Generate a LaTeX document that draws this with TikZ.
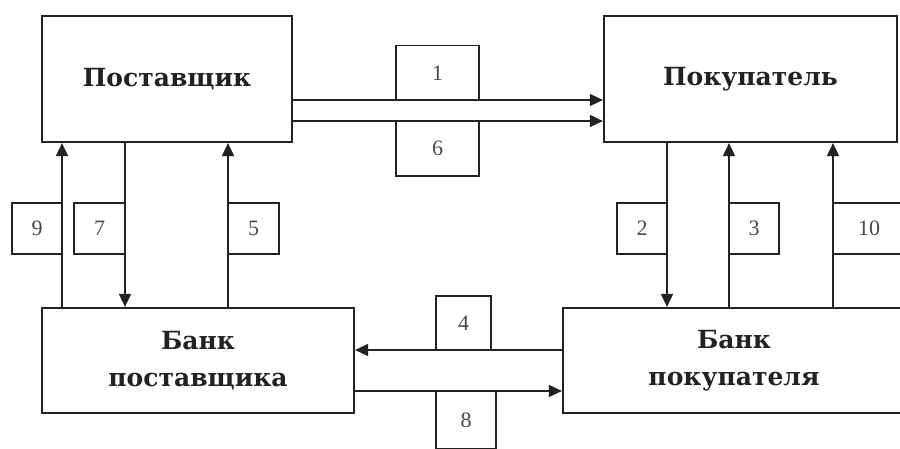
\documentclass[tikz,border=0pt]{standalone}
\usepackage{fontspec}
\setmainfont{Liberation Serif}
\newfontfamily\boxfont{DejaVu Serif}
\usetikzlibrary{arrows.meta}
\definecolor{ink}{HTML}{222222}
\definecolor{numc}{HTML}{4A4A4A}
\begin{document}
\begin{tikzpicture}[x=1pt,y=-1pt,
  mainbox/.style={draw=ink,line width=2.2pt,inner sep=0pt,
    font=\boxfont\bfseries\fontsize{25}{37}\selectfont,align=center,text=ink},
  numbox/.style={draw=ink,line width=1.6pt,inner sep=0pt,
    font=\fontsize{22}{22}\selectfont,text=numc},
  arr/.style={draw=ink,line width=1.7pt,-{Triangle[length=13pt,width=12pt]}},
  ln/.style={draw=ink,line width=1.6pt}]
\useasboundingbox (0,0) rectangle (900,449);
\clip (0,0) rectangle (900,449);
\fill[white] (0,0) rectangle (900,449);
% main boxes
\node[mainbox,minimum width=250pt,minimum height=126pt] (sup) at (167,79) {\raisebox{4pt}{Поставщик}};
\node[mainbox,minimum width=293pt,minimum height=126pt] (buy) at (750.5,79) {\raisebox{4pt}{Покупатель}};
\node[mainbox,minimum width=312pt,minimum height=105pt] (bs) at (198,360.5) {Банк\\поставщика};
\node[mainbox,minimum width=342pt,minimum height=105pt] (bb) at (734,360.5) {Банк\\покупателя};
% helper coordinates
\coordinate (y1) at (0,100);
\coordinate (y6) at (0,121);
\coordinate (y4) at (0,350);
\coordinate (y8) at (0,391);
\coordinate (x9) at (62,0);
\coordinate (x7) at (125,0);
\coordinate (x5) at (228,0);
\coordinate (x2) at (667,0);
\coordinate (x3) at (729,0);
\coordinate (x10) at (833,0);
% number boxes
\node[numbox,minimum width=83pt,minimum height=55pt] (n1) at (437.5,73) {1};
\node[numbox,minimum width=83pt,minimum height=55pt] (n6) at (437.5,148.5) {6};
\node[numbox,minimum width=50pt,minimum height=51pt] (n9) at (37,228.5) {9};
\node[numbox,minimum width=51pt,minimum height=51pt] (n7) at (99.5,228.5) {7};
\node[numbox,minimum width=51pt,minimum height=51pt] (n5) at (253.5,228.5) {5};
\node[numbox,minimum width=50pt,minimum height=51pt] (n2) at (642,228.5) {2};
\node[numbox,minimum width=50pt,minimum height=51pt] (n3) at (754,228.5) {3};
\node[numbox,minimum width=76pt,minimum height=51pt] (n10) at (871,228.5) {};
\node[font=\fontsize{22}{22}\selectfont,text=numc,inner sep=0pt] (t10) at (869,228.5) {10};
\node[numbox,minimum width=55pt,minimum height=54pt] (n4) at (463.5,323) {4};
\node[numbox,minimum width=60pt,minimum height=58pt] (n8) at (466,420) {8};
% connectors
\draw[arr] (sup.east |- y1) -- (buy.west |- y1);
\draw[arr] (sup.east |- y6) -- (buy.west |- y6);
\draw[arr] (bs.north -| x9) -- (sup.south -| x9);
\draw[arr] (sup.south -| x7) -- (bs.north -| x7);
\draw[arr] (bs.north -| x5) -- (sup.south -| x5);
\draw[arr] (buy.south -| x2) -- (bb.north -| x2);
\draw[arr] (bb.north -| x3) -- (buy.south -| x3);
\draw[arr] (bb.north -| x10) -- (buy.south -| x10);
\draw[arr] (bb.west |- y4) -- (bs.east |- y4);
\draw[arr] (bs.east |- y8) -- (bb.west |- y8);
\end{tikzpicture}
\end{document}
